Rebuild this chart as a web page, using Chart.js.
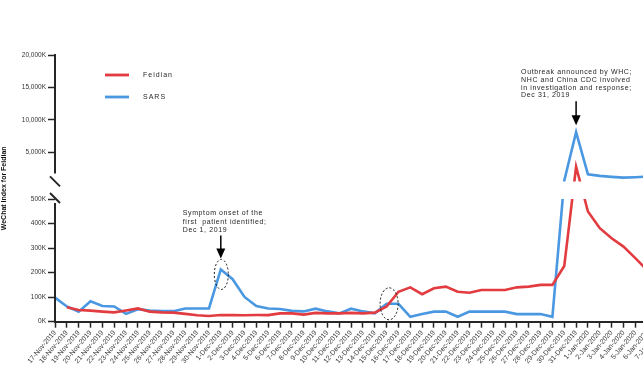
<!DOCTYPE html>
<html>
<head>
<meta charset="utf-8">
<title>WeChat Index for Feidian and SARS</title>
<script src="https://cdn.jsdelivr.net/npm/chart.js@4.4.1/dist/chart.umd.min.js"></script>
<style>
  html, body { margin: 0; padding: 0; background: #fff; overflow: hidden; }
  canvas { display: block; }
</style>
</head>
<body>
<canvas id="chart" width="680" height="372"></canvas>
<script>
// daily labels, 17 Nov 2019 - 7 Jan 2020
const dates = [
  '17-Nov-2019', '18-Nov-2019', '19-Nov-2019', '20-Nov-2019', '21-Nov-2019', '22-Nov-2019',
  '23-Nov-2019', '24-Nov-2019', '25-Nov-2019', '26-Nov-2019', '27-Nov-2019', '28-Nov-2019',
  '29-Nov-2019', '30-Nov-2019', '1-Dec-2019', '2-Dec-2019', '3-Dec-2019', '4-Dec-2019',
  '5-Dec-2019', '6-Dec-2019', '7-Dec-2019', '8-Dec-2019', '9-Dec-2019', '10-Dec-2019',
  '11-Dec-2019', '12-Dec-2019', '13-Dec-2019', '14-Dec-2019', '15-Dec-2019', '16-Dec-2019',
  '17-Dec-2019', '18-Dec-2019', '19-Dec-2019', '20-Dec-2019', '21-Dec-2019', '22-Dec-2019',
  '23-Dec-2019', '24-Dec-2019', '25-Dec-2019', '26-Dec-2019', '27-Dec-2019', '28-Dec-2019',
  '29-Dec-2019', '30-Dec-2019', '31-Dec-2019', '1-Jan-2020', '2-Jan-2020', '3-Jan-2020',
  '4-Jan-2020', '5-Jan-2020', '6-Jan-2020', '7-Jan-2020',
];

// WeChat index, in thousands
const feidian = [
  null, 59, 48, 45, 41, 38, 46, 54, 41, 38, 37, 32, 26, 23,
  27, 27, 26, 27, 27, 34, 34, 29, 36, 34, 34, 36, 34, 37,
  62, 122, 140, 112, 136, 143, 122, 118, 129, 129, 129, 140, 143, 150, 150,
  227, 2760, 449, 381, 340, 306, 259, 210, 185,
];
const sars = [
  98, 62, 41, 83, 64, 62, 32, 51, 45, 43, 43, 54, 54, 54,
  213, 173, 101, 64, 54, 52, 44, 42, 53, 42, 34, 53, 42, 34,
  73, 73, 20, 31, 41, 41, 20, 41, 41, 41, 41, 31, 31, 31, 20,
  600, 8100, 1600, 1350, 1200, 1080, 1150, 1250, 1250,
];

// y axis is broken: 0-500K below, 500K-20,000K above
const yTicks = [0, 100, 200, 300, 400, 500, 5000, 10000, 15000, 20000];
const breakValue = 500;
const yMax = 20000;

const onsetNote = ['Symptom onset of the', 'first  patient identified;', 'Dec 1, 2019'];
const outbreakNote = ['Outbreak announced by WHC;', 'NHC and China CDC involved',
  'in investigation and response;', 'Dec 31, 2019'];

const FONT = '"Liberation Sans", Arial, sans-serif';
const RED = '#e23b40';
const BLUE = '#4a97e2';
const INK = '#262626';

// linear scale with two segments and a blank band between them
class BrokenLinearScale extends Chart.LinearScale {
  determineDataLimits() {
    this.min = 0;
    this.max = this.options.max;
  }

  buildTicks() {
    return this.options.tickValues.map((value) => ({ value }));
  }

  gap() {
    const h = this.bottom - this.top;
    const low = h * this.options.lowerShare;
    const gap = h * this.options.gapShare;
    return { top: this.bottom - low - gap, bottom: this.bottom - low };
  }

  getPixelForValue(value) {
    const brk = this.options.breakAt;
    const g = this.gap();
    if (value <= brk) {
      return this.bottom - (value / brk) * (this.bottom - g.bottom);
    }
    return g.top - ((value - brk) / (this.max - brk)) * (g.top - this.top);
  }

  getValueForPixel(pixel) {
    const brk = this.options.breakAt;
    const g = this.gap();
    if (pixel >= g.bottom) {
      return ((this.bottom - pixel) / (this.bottom - g.bottom)) * brk;
    }
    return brk + ((g.top - pixel) / (g.top - this.top)) * (this.max - brk);
  }
}
BrokenLinearScale.id = 'brokenLinear';
BrokenLinearScale.defaults = Chart.LinearScale.defaults;
Chart.register(BrokenLinearScale);

const drawNote = (ctx, lines, left, top, step) => {
  ctx.save();
  ctx.font = `7px ${FONT}`;
  ctx.letterSpacing = '0.6px';
  ctx.fillStyle = INK;
  ctx.textBaseline = 'middle';
  lines.forEach((line, i) => ctx.fillText(line, left, top + i * step));
  ctx.restore();
};

const drawArrow = (ctx, x, y1, y2) => {
  ctx.save();
  ctx.strokeStyle = '#000';
  ctx.fillStyle = '#000';
  ctx.lineWidth = 1.5;
  ctx.beginPath();
  ctx.moveTo(x, y1);
  ctx.lineTo(x, y2 - 8);
  ctx.stroke();
  ctx.beginPath();
  ctx.moveTo(x - 4.5, y2 - 10);
  ctx.lineTo(x + 4.5, y2 - 10);
  ctx.lineTo(x, y2);
  ctx.closePath();
  ctx.fill();
  ctx.restore();
};

const drawRing = (ctx, x, y, rx, ry) => {
  ctx.save();
  ctx.strokeStyle = '#111';
  ctx.lineWidth = 1;
  ctx.setLineDash([2, 2]);
  ctx.beginPath();
  ctx.ellipse(x, y, rx, ry, 0, 0, Math.PI * 2);
  ctx.stroke();
  ctx.restore();
};

const brokenAxis = {
  id: 'brokenAxis',
  beforeDatasetsDraw(chart) {
    const { ctx, chartArea: a } = chart;
    const g = chart.scales.y.gap();
    ctx.save();
    ctx.beginPath();
    ctx.rect(a.left - 4, a.top - 8, a.width + 8, g.top - a.top + 8);
    ctx.rect(a.left - 4, g.bottom, a.width + 8, a.bottom - g.bottom + 8);
    ctx.clip();
  },
  afterDatasetsDraw(chart) {
    chart.ctx.restore();
  },
  afterDraw(chart) {
    const { ctx, chartArea: a } = chart;
    const xs = chart.scales.x;
    const ys = chart.scales.y;
    const g = ys.gap();

    // y axis line in two pieces with break marks
    ctx.save();
    ctx.strokeStyle = INK;
    ctx.lineWidth = 2;
    ctx.beginPath();
    ctx.moveTo(a.left, a.top - 1);
    ctx.lineTo(a.left, g.top - 8);
    ctx.moveTo(a.left, g.bottom + 4);
    ctx.lineTo(a.left, a.bottom + 1);
    ctx.moveTo(a.left - 5, g.top - 5);
    ctx.lineTo(a.left + 5, g.top + 5);
    ctx.moveTo(a.left - 5, g.bottom - 6);
    ctx.lineTo(a.left + 5, g.bottom + 4);
    ctx.stroke();
    ctx.restore();

    // legend
    chart.data.datasets.forEach((ds, i) => {
      const y = a.top + 20 + i * 22;
      ctx.save();
      ctx.strokeStyle = ds.borderColor;
      ctx.lineWidth = 2.8;
      ctx.beginPath();
      ctx.moveTo(a.left + 50, y);
      ctx.lineTo(a.left + 74, y);
      ctx.stroke();
      ctx.font = `7px ${FONT}`;
      ctx.letterSpacing = '1px';
      ctx.fillStyle = INK;
      ctx.textBaseline = 'middle';
      ctx.fillText(ds.label, a.left + 88, y + 0.5);
      ctx.restore();
    });

    // Dec 1 annotation
    const x1 = xs.getPixelForValue(14);
    const peak1 = ys.getPixelForValue(sars[14]);
    drawNote(ctx, onsetNote, x1 - 38, peak1 - 56, 8.2);
    drawArrow(ctx, x1, peak1 - 34, peak1 - 11);
    drawRing(ctx, x1 + 0.5, peak1 + 5, 7, 15);

    // mid-December crossing
    drawRing(ctx, xs.getPixelForValue(28) + 2.5, ys.getPixelForValue(sars[28]), 9, 16);

    // Dec 31 annotation
    const x2 = xs.getPixelForValue(44);
    const peak2 = ys.getPixelForValue(sars[44]);
    drawNote(ctx, outbreakNote, x2 - 55, peak2 - 60, 7.8);
    drawArrow(ctx, x2, peak2 - 31, peak2 - 7);
  },
};

new Chart(document.getElementById('chart'), {
  type: 'line',
  data: {
    labels: dates,
    datasets: [
      {
        label: 'Feidian',
        data: feidian,
        borderColor: RED,
        borderWidth: 2.6,
        pointRadius: 0,
        tension: 0,
      },
      {
        label: 'SARS',
        data: sars,
        borderColor: BLUE,
        borderWidth: 2.6,
        pointRadius: 0,
        tension: 0,
      },
    ],
  },
  options: {
    responsive: false,
    animation: false,
    layout: { padding: { top: 55, right: 21, bottom: 0, left: 0 } },
    plugins: {
      legend: { display: false },
      tooltip: { enabled: false },
    },
    scales: {
      x: {
        type: 'category',
        offset: false,
        grid: {
          drawOnChartArea: false,
          tickLength: 6,
          tickColor: INK,
          tickWidth: 1.5,
        },
        border: { color: INK, width: 2 },
        ticks: {
          autoSkip: false,
          minRotation: 50,
          maxRotation: 50,
          padding: 1,
          color: '#3a3a3a',
          font: { family: FONT, size: 7 },
        },
        afterFit(scale) {
          scale.height = 50.3;
        },
      },
      y: {
        type: 'brokenLinear',
        max: yMax,
        breakAt: breakValue,
        tickValues: yTicks,
        lowerShare: 0.46,
        gapShare: 0.066,
        grid: {
          drawOnChartArea: false,
          tickLength: 7,
          tickColor: INK,
          tickWidth: 1.5,
        },
        border: { display: false },
        ticks: {
          autoSkip: false,
          padding: 2,
          color: '#333',
          font: { family: FONT, size: 6.5 },
          callback: (v) => `${v.toLocaleString('en-US')}K`,
        },
        title: {
          display: true,
          text: 'WeChat Index for Feidian',
          color: '#111',
          font: { family: FONT, size: 7, weight: 'bold' },
          padding: { top: 0, bottom: 0 },
        },
        afterFit(scale) {
          scale.width = 55;
        },
      },
    },
  },
  plugins: [brokenAxis],
});
</script>
</body>
</html>
